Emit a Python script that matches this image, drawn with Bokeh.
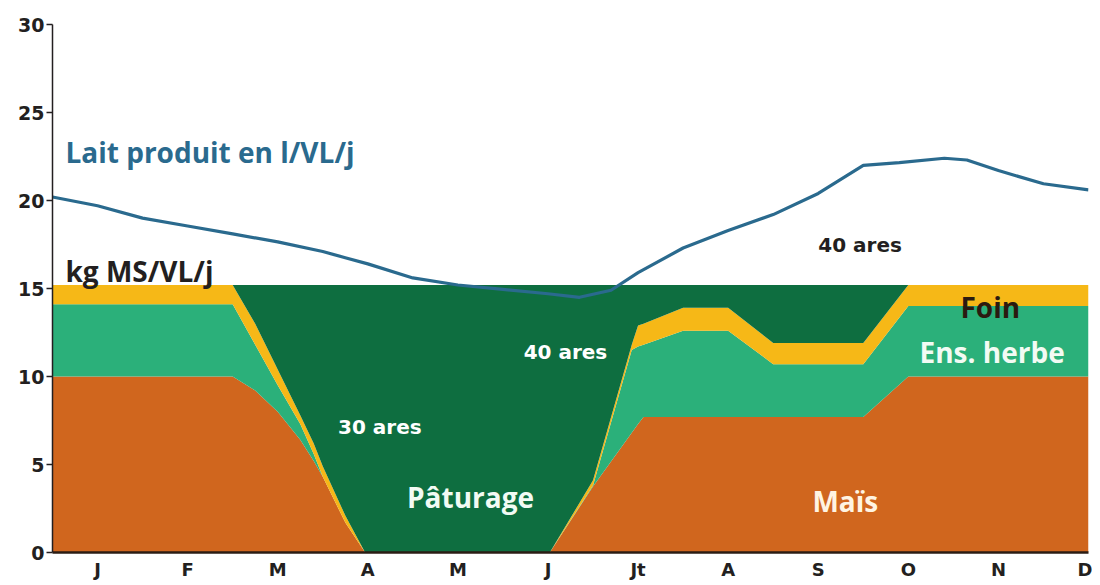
from bokeh.plotting import figure
from bokeh.models import Range1d, FixedTicker, ColumnDataSource
from bokeh.core.properties import value
from bokeh.embed import file_html
from bokeh.resources import INLINE

# ---- data ----
months = ["J", "F", "M", "A", "M", "J", "Jt", "A", "S", "O", "N", "D"]
month_pos = [1, 2, 3, 4, 5, 6, 7, 8, 9, 10, 11, 12]

# stacked ration (kg MS/VL/j) along the year (x in months)
x_ration = [0.5, 2.5, 2.75, 3.0, 3.25, 3.4, 3.5, 3.75, 3.97, 6.02,
            6.5, 6.93, 7.0, 7.06, 7.5, 8.0, 8.5, 9.5, 10.0, 12.0]
mais = [10.0, 10.0, 9.2, 8.0, 6.4, 5.2, 4.3, 1.7, 0.0, 0.0,
        3.75, 6.8, 7.3, 7.7, 7.7, 7.7, 7.7, 7.7, 10.0, 10.0]
ens_herbe = [4.1, 4.1, 2.6, 1.5, 0.9, 0.4, 0.0, 0.0, 0.0, 0.0,
             0.05, 4.7, 4.4, 4.1, 4.9, 4.9, 3.0, 3.0, 4.0, 4.0]
foin = [1.1, 1.1, 1.2, 0.9, 0.5, 0.6, 0.6, 0.4, 0.0, 0.0,
        0.3, 0.3, 1.2, 1.2, 1.3, 1.3, 1.2, 1.2, 1.2, 1.2]
paturage = [0.0, 0.0, 2.2, 4.8, 7.4, 9.0, 10.3, 13.1, 15.2, 15.2,
            11.1, 3.4, 2.3, 2.2, 1.3, 1.3, 3.3, 3.3, 0.0, 0.0]

# milk produced (l/VL/j)
x_lait = [0.5, 1.0, 1.5, 2.0, 2.5, 3.0, 3.5, 3.75, 4.0, 4.5, 5.0, 5.5, 6.0,
          6.35, 6.7, 7.0, 7.5, 8.0, 8.5, 9.0, 9.5, 9.9, 10.4, 10.65, 11.0,
          11.5, 12.0]
lait = [20.2, 19.7, 19.0, 18.55, 18.1, 17.65, 17.1, 16.75, 16.4, 15.6, 15.2,
        14.95, 14.7, 14.5, 14.9, 15.9, 17.3, 18.3, 19.2, 20.4, 22.0, 22.15,
        22.4, 22.3, 21.7, 20.95, 20.6]

C_MAIS = "#d0661e"
C_ENS = "#2bb07a"
C_FOIN = "#f6b817"
C_PAT = "#0e6e40"
C_LAIT = "#2a6a8e"
C_DARK = "#231f20"

p = figure(width=1092, height=582, x_range=Range1d(0.5, 12.0), y_range=Range1d(0, 30),
           output_backend="svg", toolbar_location=None,
           min_border_left=52, min_border_right=4, min_border_top=24, min_border_bottom=29)
p.outline_line_color = None
p.grid.visible = False
p.background_fill_color = "white"

src = ColumnDataSource(dict(x=x_ration, mais=mais, ens=ens_herbe, foin=foin, pat=paturage))
p.varea_stack(stackers=["mais", "ens", "foin", "pat"], x="x",
              color=[C_MAIS, C_ENS, C_FOIN, C_PAT], source=src)

p.line(x_lait, lait, line_color=C_LAIT, line_width=3.2, line_join="round")

# axes
p.yaxis.ticker = FixedTicker(ticks=[0, 5, 10, 15, 20, 25, 30])
p.yaxis.minor_tick_line_color = None
p.yaxis.major_tick_in = 0
p.yaxis.major_tick_out = 6
p.yaxis.major_tick_line_width = 1.5
p.yaxis.axis_line_width = 1.5
p.yaxis.axis_line_color = C_DARK
p.yaxis.major_tick_line_color = C_DARK
p.yaxis.major_label_text_font = "DejaVu Sans"
p.yaxis.major_label_text_font_style = "bold"
p.yaxis.major_label_text_font_size = "19px"
p.yaxis.major_label_text_color = C_DARK
p.yaxis.major_label_standoff = 2

p.xaxis.ticker = FixedTicker(ticks=month_pos)
p.xaxis.major_label_overrides = {m: lab for m, lab in zip(month_pos, months)}
p.xaxis.minor_tick_line_color = None
p.xaxis.major_tick_line_color = None
p.xaxis.major_tick_in = 0
p.xaxis.major_tick_out = 0
p.xaxis.axis_line_width = 2.5
p.xaxis.axis_line_color = "#2b1d14"
p.xaxis.major_label_text_font = "DejaVu Sans"
p.xaxis.major_label_text_font_style = "bold"
p.xaxis.major_label_text_font_size = "18px"
p.xaxis.major_label_text_color = C_DARK
p.xaxis.major_label_standoff = 6

# labels
def lab(x, y, t, color, size, font="Open Sans", align="left"):
    p.text(x=[x], y=[y], text=[t], text_color=color, text_font=value(font),
           text_font_style="bold", text_font_size=size, text_align=align,
           text_baseline="alphabetic")

lab(0.644, 22.75, "Lait produit en l/VL/j", C_LAIT, "28px")
lab(0.644, 16.0, "kg MS/VL/j", C_DARK, "28px")
lab(9.0, 17.47, "40 ares", C_DARK, "20px", font="DejaVu Sans")
lab(5.73, 11.4, "40 ares", "white", "20px", font="DejaVu Sans")
lab(3.67, 7.15, "30 ares", "white", "20px", font="DejaVu Sans")
lab(5.14, 3.18, "Pâturage", "#f2fbf4", "28px", align="center")
lab(9.3, 2.95, "Maïs", "#fff4e2", "28px", align="center")
lab(10.91, 13.95, "Foin", "#2b1a10", "28px", align="center")
lab(10.93, 11.4, "Ens. herbe", "#f2fbf4", "28px", align="center")

open("out.html", "w").write(file_html(p, INLINE))
